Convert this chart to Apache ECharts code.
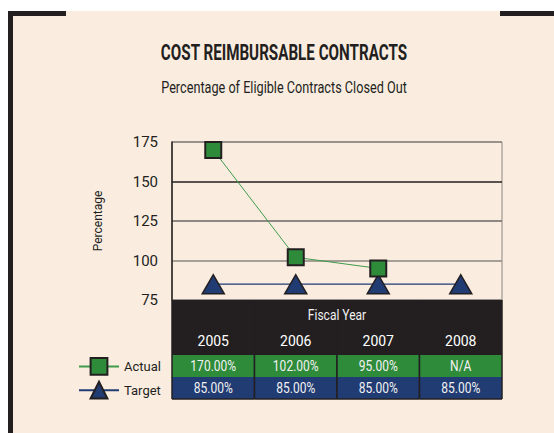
<!DOCTYPE html>
<html><head><meta charset="utf-8">
<script src="https://cdn.jsdelivr.net/npm/echarts@6/dist/echarts.min.js"></script>
<style>html,body{margin:0;padding:0;background:#fff}#c{width:554px;height:433px}</style>
</head><body><div id="c"></div>
<script>
var categories = ['2005', '2006', '2007', '2008'];
var actual = [170, 102, 95, null];
var target = [85, 85, 85, 85];
var actualLabels = ['170.00%', '102.00%', '95.00%', 'N/A'];
var targetLabels = ['85.00%', '85.00%', '85.00%', '85.00%'];
var yMin = 75, yMax = 175, yStep = 25;
var titleText = 'COST REIMBURSABLE CONTRACTS';
var subText = 'Percentage of Eligible Contracts Closed Out';
var xName = 'Fiscal Year';

var FONT = 'Roboto, "Liberation Sans", sans-serif';
var INK = '#231F20', BEIGE = '#FAEDE0', GREEN = '#2E8B3A', BLUE = '#213B73';

function widthOf(text, font) {
  var ctx = document.createElement('canvas').getContext('2d');
  ctx.font = font;
  return ctx.measureText(text).width;
}
var titleFont = 'bold 22px ' + FONT, subFont = '16px ' + FONT;
var titleScale = Math.min(1, 247 / widthOf(titleText, titleFont));
var subScale = Math.min(1, 246 / widthOf(subText, subFont));
var cellScale = 0.86;

var chart = echarts.init(document.getElementById('c'), null, {renderer: 'svg'});
chart.setOption({
  animation: false,
  backgroundColor: '#fff',
  textStyle: {fontFamily: FONT},
  graphic: [
    {type: 'rect', z: -10, shape: {x: 8, y: 11, width: 546, height: 422}, style: {fill: BEIGE}},
    {type: 'rect', z: -9, shape: {x: 8, y: 11, width: 5, height: 422}, style: {fill: INK}},
    {type: 'rect', z: -9, shape: {x: 8, y: 11, width: 58, height: 5}, style: {fill: INK}},
    {type: 'rect', z: -9, shape: {x: 500, y: 11, width: 54, height: 5}, style: {fill: INK}},
    {type: 'text', x: 284, y: 52, scaleX: titleScale, style: {text: titleText, fill: INK, font: titleFont, textAlign: 'center', textVerticalAlign: 'middle'}},
    {type: 'text', x: 284, y: 88, scaleX: subScale, style: {text: subText, fill: INK, font: subFont, textAlign: 'center', textVerticalAlign: 'middle'}}
  ],
  grid: {left: 172, top: 142, width: 330, height: 158, show: true, borderColor: '#8a8580', borderWidth: 1, backgroundColor: 'transparent'},
  legend: {
    orient: 'vertical', left: 73, top: 352, itemWidth: 40, itemHeight: 21, itemGap: 5,
    data: ['Actual', 'Target'],
    textStyle: {fontFamily: FONT, fontSize: 13, color: INK}
  },
  xAxis: {
    type: 'category', data: categories, z: 5,
    axisLine: {show: false}, axisTick: {show: false},
    axisLabel: {color: '#fff', fontSize: 14, margin: 34, fontFamily: FONT},
    splitLine: {show: false}
  },
  yAxis: {
    type: 'value', min: yMin, max: yMax, interval: yStep,
    name: 'Percentage', nameLocation: 'middle', nameGap: 68, nameRotate: 90,
    nameTextStyle: {color: INK, fontSize: 12, fontFamily: FONT},
    axisLine: {show: true, lineStyle: {color: INK, width: 1.5}},
    axisTick: {show: false},
    axisLabel: {color: INK, fontSize: 15, margin: 14, fontFamily: FONT},
    splitLine: {show: true, lineStyle: {color: ['#8a8580', '#8a8580', '#6b6663', INK, '#8a8580'], width: 1.5}}
  },
  series: [
    {
      type: 'custom', z: 1, clip: false, silent: true,
      data: categories.map(function (c, i) { return [i, yMin]; }),
      renderItem: function (params, api) {
        var i = api.value(0);
        var p = api.coord([i, yMin]);
        var band = api.size([1, 0])[0];
        var x0 = p[0] - band / 2, y0 = p[1];
        var children = [
          {type: 'rect', shape: {x: x0, y: y0, width: band, height: 55}, style: {fill: INK}},
          {type: 'rect', shape: {x: x0, y: y0 + 55, width: band, height: 22}, style: {fill: GREEN}},
          {type: 'rect', shape: {x: x0, y: y0 + 77, width: band, height: 22}, style: {fill: BLUE}},
          {type: 'text', x: p[0], y: y0 + 66, scaleX: cellScale, style: {text: actualLabels[i], fill: '#f2f2f2', font: '14px ' + FONT, textAlign: 'center', textVerticalAlign: 'middle'}},
          {type: 'text', x: p[0], y: y0 + 88, scaleX: cellScale, style: {text: targetLabels[i], fill: '#f2f2f2', font: '14px ' + FONT, textAlign: 'center', textVerticalAlign: 'middle'}},
          {type: 'line', shape: {x1: x0, y1: y0, x2: x0, y2: y0 + 99}, style: {stroke: INK, lineWidth: 1.5}},
          {type: 'line', shape: {x1: x0, y1: y0 + 99, x2: x0 + band, y2: y0 + 99}, style: {stroke: INK, lineWidth: 1.5}},
          {type: 'line', shape: {x1: x0 + band, y1: y0, x2: x0 + band, y2: y0 + 99}, style: {stroke: INK, lineWidth: 1.5}}
        ];
        if (i === categories.length - 1) {
          var first = api.coord([0, yMin])[0];
          var last = api.coord([categories.length - 1, yMin])[0];
          children.push({type: 'text', z2: 100, x: (first + last) / 2, y: y0 + 15, scaleX: cellScale, style: {text: xName, fill: '#f2f2f2', font: '14px ' + FONT, textAlign: 'center', textVerticalAlign: 'middle'}});
        }
        return {type: 'group', children: children};
      }
    },
    {
      name: 'Target', type: 'line', data: target, z: 3,
      symbol: 'triangle', symbolSize: [22, 19],
      lineStyle: {color: BLUE, width: 1.2},
      itemStyle: {color: BLUE, borderColor: INK, borderWidth: 1.5}
    },
    {
      name: 'Actual', type: 'line', data: actual, z: 4,
      symbol: 'rect', symbolSize: 16,
      lineStyle: {color: '#3E9B4A', width: 1},
      itemStyle: {color: GREEN, borderColor: INK, borderWidth: 2}
    }
  ]
});
</script></body></html>
